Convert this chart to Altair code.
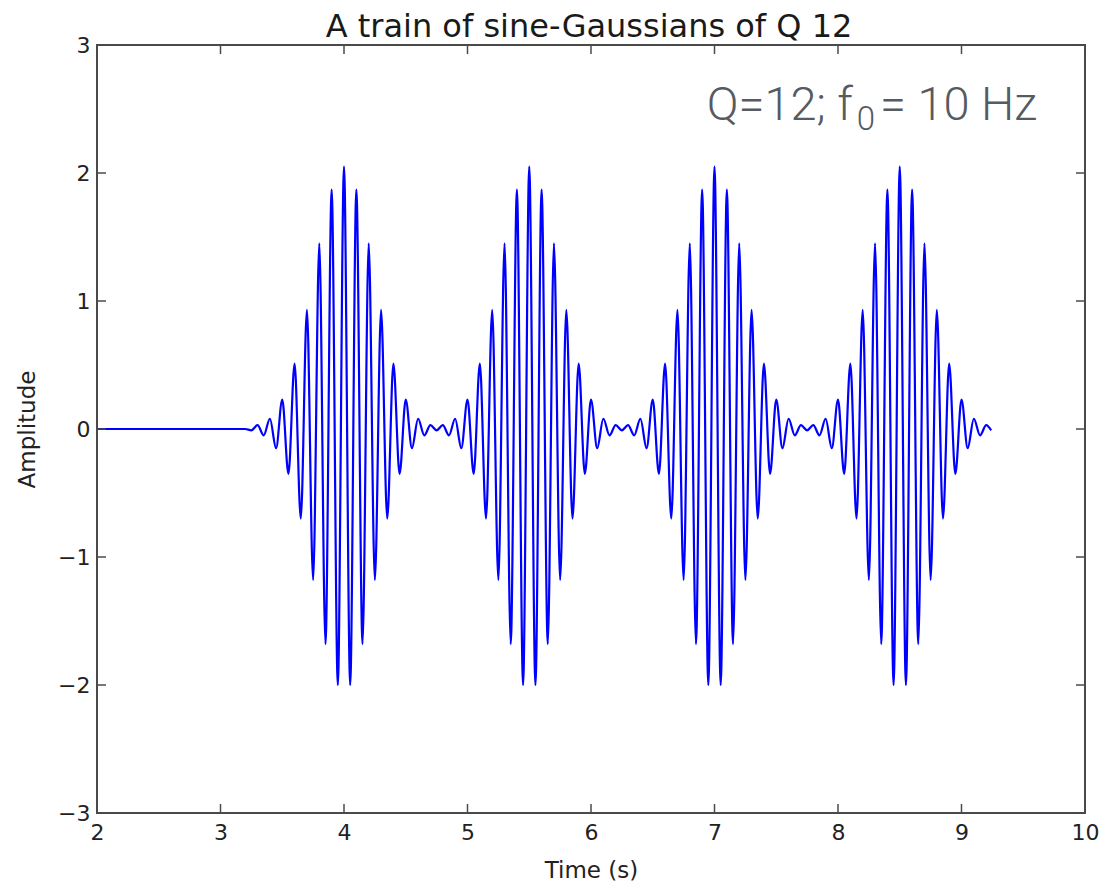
import altair as alt
import pandas as pd

# ---- data ----
burst_centers = [4.0, 5.5, 7.0, 8.5]          # seconds
# time offsets of successive extrema relative to a burst centre (s)
extremum_offsets = [-0.75, -0.70, -0.65, -0.60, -0.55, -0.50, -0.45, -0.40,
                    -0.35, -0.30, -0.25, -0.20, -0.15, -0.10, -0.05, 0.00,
                    0.05, 0.10, 0.15, 0.20, 0.25, 0.30, 0.35, 0.40,
                    0.45, 0.50, 0.55, 0.60, 0.65, 0.70]
extremum_values = [-0.01, 0.03, -0.05, 0.08, -0.15, 0.23, -0.35, 0.51,
                   -0.70, 0.93, -1.18, 1.45, -1.68, 1.87, -2.00, 2.05,
                   -2.00, 1.87, -1.68, 1.45, -1.18, 0.93, -0.70, 0.51,
                   -0.35, 0.23, -0.15, 0.08, -0.05, 0.03]
lead_times = [2.0, 3.2]
lead_values = [0.0, 0.0]
tail_times = [9.24]
tail_values = [-0.01]

x_ticks = [2, 3, 4, 5, 6, 7, 8, 9, 10]
y_ticks = [-3, -2, -1, 0, 1, 2, 3]
title_text = "A train of sine-Gaussians of Q 12"

rows = [{"t": t, "a": a} for t, a in zip(lead_times, lead_values)]
for c in burst_centers:
    for o, v in zip(extremum_offsets, extremum_values):
        rows.append({"t": round(c + o, 4), "a": v})
rows += [{"t": t, "a": a} for t, a in zip(tail_times, tail_values)]
df = pd.DataFrame(rows).sort_values("t")

W, H = 988, 768
TICK = 9
FRAME = "#4a4a4a"

xs = alt.Scale(domain=[2, 10], nice=False, zero=False)
ys = alt.Scale(domain=[-3, 3], nice=False, zero=False)

line = alt.Chart(df).mark_line(
    color="#0000ff", strokeWidth=2.2, interpolate="monotone"
).encode(
    x=alt.X("t:Q", scale=xs, axis=alt.Axis(
        values=x_ticks, format="d", title="Time (s)", ticks=False, domain=False,
        grid=False, labelFlush=False, labelFont="DejaVu Sans", labelFontSize=22,
        labelColor="#222222", labelPadding=9, titleFont="DejaVu Sans",
        titleFontSize=23, titleFontWeight="normal", titleColor="#222222",
        titlePadding=16)),
    y=alt.Y("a:Q", scale=ys, axis=alt.Axis(
        values=y_ticks, format="d", title="Amplitude", ticks=False, domain=False,
        grid=False, labelFlush=False, labelFont="DejaVu Sans", labelFontSize=22,
        labelColor="#222222", labelPadding=7, titleFont="DejaVu Sans",
        titleFontSize=23, titleFontWeight="normal", titleColor="#222222",
        titlePadding=18)),
)

xt = pd.DataFrame({"v": x_ticks})
yt = pd.DataFrame({"v": y_ticks})

frame = alt.Chart(pd.DataFrame({"v": [0]})).mark_rect(
    fill=None, stroke=FRAME, strokeWidth=2).encode(
    x=alt.value(0), x2=alt.value(W), y=alt.value(0), y2=alt.value(H))

tick_bottom = alt.Chart(xt).mark_rule(color=FRAME, strokeWidth=1.5).encode(
    x=alt.X("v:Q", scale=xs), y=alt.value(H), y2=alt.value(H - TICK))
tick_top = alt.Chart(xt).mark_rule(color=FRAME, strokeWidth=1.5).encode(
    x=alt.X("v:Q", scale=xs), y=alt.value(0), y2=alt.value(TICK))
tick_left = alt.Chart(yt).mark_rule(color=FRAME, strokeWidth=1.5).encode(
    y=alt.Y("v:Q", scale=ys), x=alt.value(0), x2=alt.value(TICK))
tick_right = alt.Chart(yt).mark_rule(color=FRAME, strokeWidth=1.5).encode(
    y=alt.Y("v:Q", scale=ys), x=alt.value(W), x2=alt.value(W - TICK))

title = alt.Chart(pd.DataFrame({"txt": [title_text]})).mark_text(
    align="center", baseline="alphabetic", font="DejaVu Sans", fontSize=32,
    color="#1a1a1a").encode(
    x=alt.value(W / 2 - 2), y=alt.value(-8), text="txt:N")

ann = pd.DataFrame({
    "t": [8.12, 8.225, 8.34],
    "a": [2.414, 2.336, 2.414],
    "txt": ["Q=12; f", "0", "= 10 Hz"],
})
ANN_COLOR = "#555b61"
ann_main = alt.Chart(ann.iloc[[0]]).mark_text(
    align="right", baseline="alphabetic", font="Roboto", fontWeight=300,
    fontSize=47, color=ANN_COLOR).encode(
    x=alt.X("t:Q", scale=xs), y=alt.Y("a:Q", scale=ys), text="txt:N")
ann_sub = alt.Chart(ann.iloc[[1]]).mark_text(
    align="center", baseline="alphabetic", font="Roboto", fontWeight=300,
    fontSize=33, color=ANN_COLOR).encode(
    x=alt.X("t:Q", scale=xs), y=alt.Y("a:Q", scale=ys), text="txt:N")
ann_rest = alt.Chart(ann.iloc[[2]]).mark_text(
    align="left", baseline="alphabetic", font="Roboto", fontWeight=300,
    fontSize=47, color=ANN_COLOR).encode(
    x=alt.X("t:Q", scale=xs), y=alt.Y("a:Q", scale=ys), text="txt:N")

chart = alt.layer(
    line, frame, tick_bottom, tick_top, tick_left, tick_right,
    title, ann_main, ann_sub, ann_rest
).properties(
    width=W, height=H,
    autosize=alt.AutoSizeParams(type="none"),
    padding={"left": 97, "top": 45, "right": 20, "bottom": 76},
    background="white",
).configure_view(
    stroke=None
)

chart.save("out.html", embed_options={"renderer": "svg", "actions": False})
